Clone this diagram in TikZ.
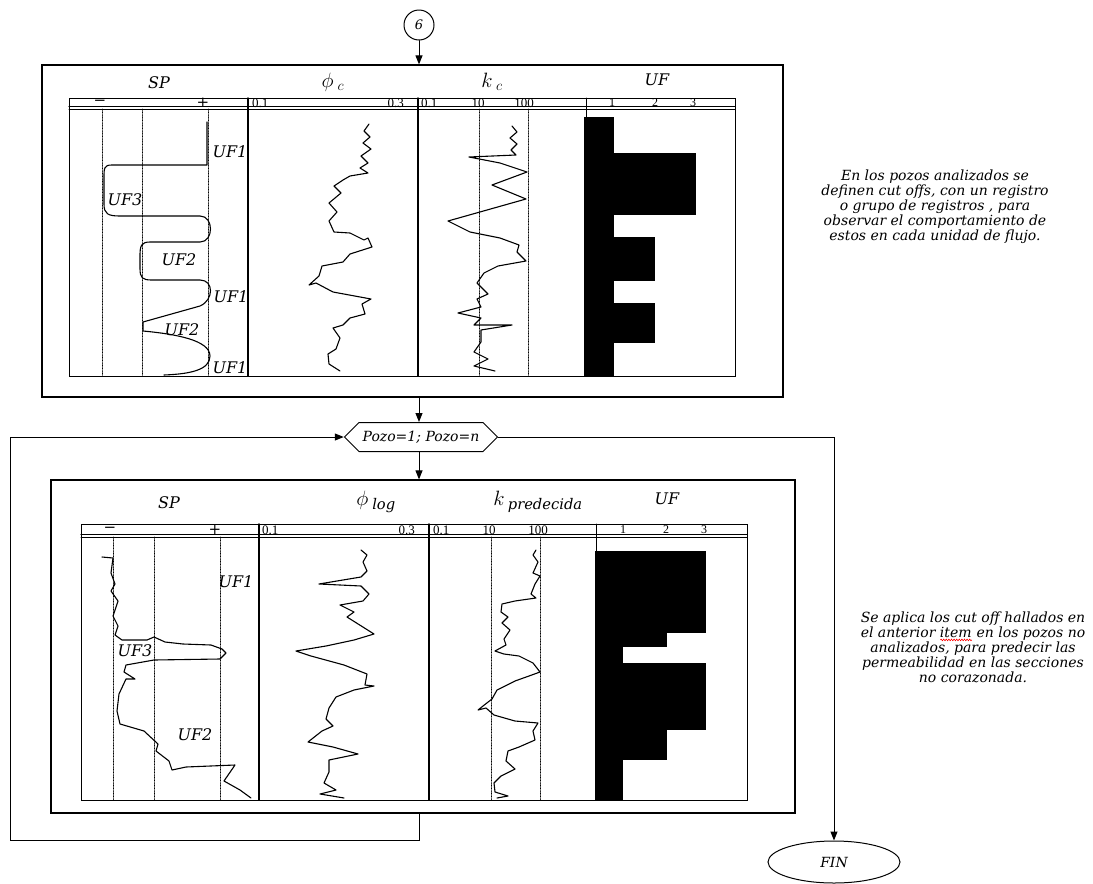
\documentclass[tikz,border=0pt]{standalone}
\usepackage{fontspec}
\setmainfont{DejaVu Serif}
\newfontfamily\numfont{Liberation Serif}
\usetikzlibrary{arrows.meta,shapes.geometric,shapes.symbols,decorations.pathmorphing}

% red spell-check wave under a word
\newsavebox\squigbox
\newcommand\squig[1]{\sbox\squigbox{#1}\rlap{\usebox\squigbox}\tikz[baseline=0pt]\draw[red, line width=0.6pt, decorate, decoration={snake, amplitude=0.8pt, segment length=2.6pt}] (0pt,-2.8pt) -- (\wd\squigbox,-2.8pt);}

\begin{document}
\begin{tikzpicture}[x=1pt, y=-1pt, line cap=round,
    every node/.style={font=\itshape},
    panel/.style={draw, line width=1.2pt, inner sep=0pt},
    track/.style={line width=1pt},
    divider/.style={line width=1.5pt},
    cutoff/.style={densely dotted, line width=0.6pt},
    logcurve/.style={line width=1.1pt, line join=round},
    title/.style={font=\itshape\fontsize{16}{18}\selectfont},
    mtitle/.style={font=\fontsize{21}{24}\selectfont},
    scaletxt/.style={font=\numfont\fontsize{13}{14}\selectfont, inner sep=0pt},
    signtxt/.style={font=\fontsize{15}{16}\selectfont, inner sep=0pt},
    uftxt/.style={font=\numfont\fontsize{12}{14}\selectfont, inner sep=0pt},
    uflabel/.style={font=\itshape\fontsize{16}{18}\selectfont, inner sep=0pt},
    note/.style={font=\itshape\fontsize{14}{15}\selectfont, align=center},
    flow/.style={line width=1pt, -{Triangle[length=9pt, width=7pt]}}]
  \useasboundingbox (0,0) rectangle (1093,884);

  % Flow chart frame
  \node[circle, draw, line width=1pt, minimum size=30pt, inner sep=0pt,
        font=\itshape\fontsize{13}{15}\selectfont] (six) at (419,25) {6};
  \node[panel, minimum width=741pt, minimum height=332pt] (topbox) at (412.5,231) {};
  \node[signal, signal to=west and east, signal pointer angle=90, draw, line width=1pt,
        minimum width=153pt, minimum height=29pt, inner sep=2pt,
        font=\itshape\fontsize{14}{16}\selectfont] (pozo) at (421,437) {Pozo=1; Pozo=n};
  \node[panel, minimum width=744pt, minimum height=333pt] (botbox) at (423,646.5) {};
  \node[ellipse, draw, line width=1pt, minimum width=132pt, minimum height=42pt,
        font=\itshape\fontsize{14}{16}\selectfont] (fin) at (834,862) {FIN};
  \coordinate (loopBL) at (10,840);

  \draw[flow] (six.south) -- (six.south |- topbox.north);
  \draw[flow] (six |- topbox.south) -- (six |- pozo.north);
  \draw[flow] (six |- pozo.south) -- (six |- botbox.north);
  \draw[flow] (six |- botbox.south) -- (six |- loopBL) -- (loopBL) |- (pozo.west);
  \draw[flow] (pozo.east) -| (fin.north);

  % Notes
  \node[note] (note1) at (935,207) {En los pozos analizados se\\definen cut offs, con un registro\\o grupo de registros , para\\observar el comportamiento de\\estos en cada unidad de flujo.};
  \node[note] (note2) at (973,647) {Se aplica los cut off hallados en\\el anterior \squig{item} en los pozos no\\analizados, para predecir las\\permeabilidad en las secciones\\no corazonada.};

  % Cored wells
  \node[title] (sp1) at (159,83) {SP};
  \node[mtitle] (phi1) at (333,82) {$\phi_{\;c}$};
  \node[mtitle] (k1) at (492,82) {$k_{\;c}$};
  \node[title] (uf1) at (657,80) {UF};
  \draw[track] (69,98) rectangle (735,376);
  \draw[line width=1.2pt] (69,106.5) -- (735,106.5);
  \draw[line width=1pt] (69,109) -- (735,109);
  \foreach \x in {248,418} \draw[divider] (\x,98) -- (\x,376);
  \draw[track] (586,98) -- (586,117);
  \foreach \x in {102,142,208,479,528} \draw[cutoff] (\x,109) -- (\x,376);
  \node[signtxt] at (100,103) {−};
  \node[signtxt] at (203,103) {+};
  \node[scaletxt, anchor=west] at (252,103) {0.1};
  \node[scaletxt, anchor=east] at (404,103) {0.3};
  \node[scaletxt, anchor=west] at (421,103) {0.1};
  \node[scaletxt] at (478,103) {10};
  \node[scaletxt] at (524,103) {100};
  \foreach \x/\n in {612/1, 655/2, 693/3} \node[uftxt] at (\x,103) {\n};
  \foreach \ya/\yb/\xb in {117/153/614, 153/215/696, 215/237/614, 237/281/655, 281/303/614, 303/343/655, 343/376/614}
    \fill (584,\ya) rectangle (\xb,\yb);
  \draw[logcurve] (207,122) -- (207,165) -- (112,165) .. controls (104,165) and (104,168) .. (104,178)
    -- (104,204) .. controls (104,214) and (108,216) .. (120,216) -- (200,216)
    .. controls (214,216) and (214,242) .. (200,242) -- (150,242) .. controls (141,242) and (140,246) .. (140,256)
    -- (140,268) .. controls (140,278) and (142,280) .. (152,280) -- (200,280)
    .. controls (214,280) and (214,300) .. (200,306) -- (143,322) -- (143,331)
    .. controls (175,334) and (210,340) .. (210,356) .. controls (210,370) and (190,374) .. (164,375);
  \draw[logcurve] plot coordinates {(369,124) (364,131) (370,137) (363,143) (371,149) (361,156) (368,163) (360,168) (368,173) (350,176) (343,180) (334,186) (341,193) (329,203) (337,212) (329,221) (334,232) (350,233) (364,240) (368,238) (372,247) (350,254) (343,262) (322,266) (319,276) (309,285) (316,283) (333,292) (371,299) (362,304) (365,314) (350,318) (343,325) (333,328) (340,338) (336,349) (328,354) (329,364) (340,371)};
  \draw[logcurve] plot coordinates {(512,126) (517,132) (510,138) (517,144) (511,150) (516,155) (469,157) (500,163) (527,172) (492,185) (526,199) (448,221) (470,232) (500,238) (519,245) (517,252) (526,261) (498,266) (484,273) (477,283) (488,294) (477,299) (481,307) (458,313) (481,318) (474,325) (512,325) (481,330) (481,342) (474,352) (488,359) (474,366) (495,371)};
  \foreach \x/\y/\t in {230/152/UF1, 125/200/UF3, 179/260/UF2, 231/297/UF1, 182/330/UF2, 230/368/UF1}
    \node[uflabel] at (\x,\y) {\t};

  % Wells not cored
  \node[title] (sp2) at (169,503) {SP};
  \node[mtitle] (phi2) at (376,502) {$\phi_{\;\mathit{log}}$};
  \node[mtitle] (k2) at (538,502) {$k_{\;\mathit{predecida}}$};
  \node[title] (uf2) at (667,499) {UF};
  \draw[track] (81,524) rectangle (747,800);
  \draw[line width=1.2pt] (81,534.5) -- (747,534.5);
  \draw[line width=1pt] (81,537) -- (747,537);
  \foreach \x in {259,429} \draw[divider] (\x,524) -- (\x,800);
  \draw[track] (596,524) -- (596,551);
  \foreach \x in {113,154,220,491,540} \draw[cutoff] (\x,537) -- (\x,800);
  \node[signtxt] at (110,530) {−};
  \node[signtxt] at (215,530) {+};
  \node[scaletxt, anchor=west] at (262,530) {0.1};
  \node[scaletxt, anchor=east] at (415,530) {0.3};
  \node[scaletxt, anchor=west] at (433,530) {0.1};
  \node[scaletxt] at (489,530) {10};
  \node[scaletxt] at (538,530) {100};
  \foreach \x/\n in {623/1, 666/2, 704/3} \node[uftxt] at (\x,530) {\n};
  \foreach \ya/\yb/\xb in {551/633/706, 633/647/667, 647/663/623, 663/730/706, 730/760/667, 760/800/623}
    \fill (595,\ya) rectangle (\xb,\yb);
  \draw[logcurve] plot coordinates {(102,557) (113,558) (111,573) (115,584) (111,591) (118,601) (113,616) (118,626) (115,635) (122,640) (147,640) (154,637) (165,642) (183,644) (211,645) (222,649) (226,653) (220,659) (154,660) (126,665) (124,672) (135,679) (126,679) (119,694) (117,711) (120,724) (144,731) (158,744) (156,751) (169,761) (172,770) (186,767) (235,765) (224,781) (240,790) (251,798)};
  \draw[logcurve] plot coordinates {(361,550) (367,555) (363,562) (367,571) (361,577) (319,584) (361,586) (369,594) (363,601) (340,605) (354,612) (347,617) (374,634) (354,640) (326,646) (296,651) (311,656) (344,665) (367,674) (365,685) (374,686) (354,690) (336,697) (329,708) (326,719) (333,726) (322,731) (308,742) (333,747) (358,754) (329,760) (329,772) (324,783) (336,790) (320,794) (344,798)};
  \draw[logcurve] plot coordinates {(536,550) (533,555) (538,562) (533,573) (540,576) (535,584) (531,594) (536,598) (515,601) (502,604) (501,612) (508,617) (502,623) (510,630) (504,639) (506,645) (495,651) (504,654) (519,656) (533,663) (540,672) (529,676) (515,681) (497,690) (492,699) (483,706) (478,710) (486,708) (494,715) (515,721) (538,723) (533,731) (535,740) (519,747) (508,751) (506,761) (515,769) (501,776) (494,783) (495,792) (508,796) (497,798)};
  \foreach \x/\y/\t in {236/582/UF1, 135/651/UF3, 195/735/UF2}
    \node[uflabel] at (\x,\y) {\t};
\end{tikzpicture}
\end{document}
